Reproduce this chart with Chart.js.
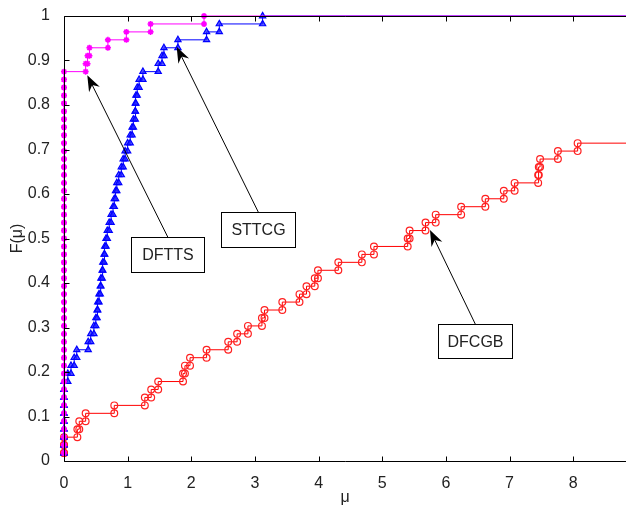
<!DOCTYPE html>
<html lang="en">
<head>
  <meta charset="UTF-8">
  <title>Performance profile F(mu)</title>
  <style>
    body { margin: 0; background: #fff; }
    #wrap { width: 626px; height: 510px; }
  </style>
</head>
<body>
  <div id="wrap"><canvas id="profile" width="626" height="510"></canvas></div>

  <script src="https://cdn.jsdelivr.net/npm/chart.js@4.4.0/dist/chart.umd.min.js"></script>
  <script>
    // number of test problems, each solved problem raises F by 1/N
    const N = 56;
    const X_MAX = 8.83;
    const xTicks = [0, 1, 2, 3, 4, 5, 6, 7, 8];
    const yTicks = [0, 0.1, 0.2, 0.3, 0.4, 0.5, 0.6, 0.7, 0.8, 0.9, 1];

    // sorted mu values per solver
    const muDFTTS = [
      0, 0, 0, 0, 0, 0, 0, 0, 0, 0,
      0, 0, 0, 0, 0, 0, 0, 0, 0, 0,
      0, 0, 0, 0, 0, 0, 0, 0, 0, 0,
      0, 0, 0, 0, 0, 0, 0, 0, 0, 0,
      0, 0, 0, 0, 0, 0, 0, 0, 0,
      0.34, 0.37, 0.40, 0.69, 0.98, 1.36, 2.20
    ];
    const muSTTCG = [
      0, 0, 0, 0, 0, 0, 0, 0, 0, 0,
      0.06, 0.11, 0.16, 0.20, 0.38, 0.42, 0.47, 0.50, 0.52, 0.53,
      0.55, 0.57, 0.58, 0.60, 0.61, 0.63, 0.64, 0.66, 0.68, 0.71,
      0.74, 0.77, 0.79, 0.81, 0.83, 0.86, 0.90, 0.93, 0.96, 1.00,
      1.04, 1.07, 1.09, 1.12, 1.12, 1.13, 1.15, 1.18, 1.24, 1.48,
      1.54, 1.57, 1.79, 2.24, 2.44, 3.12
    ];
    const muDFCGB = [
      0, 0, 0,
      0.21, 0.24, 0.34, 0.79, 1.27, 1.37, 1.48, 1.87, 1.90, 1.98,
      2.24, 2.58, 2.72, 2.89, 3.11, 3.15, 3.43, 3.70, 3.81, 3.94,
      3.99, 4.31, 4.68, 4.87, 5.40, 5.43, 5.68, 5.84, 6.24, 6.62,
      6.91, 7.08, 7.45, 7.46, 7.48, 7.76, 8.07
    ];

    // stairs: horizontal then vertical, a marker on every corner
    function profilePoints(mu) {
      const pts = [];
      mu.forEach((m, i) => {
        if (i > 0) pts.push({ x: m, y: i / N });
        pts.push({ x: m, y: (i + 1) / N });
      });
      pts.push({ x: X_MAX, y: mu.length / N });
      return pts;
    }

    const notLast = (r) => (c) => (c.dataIndex === c.dataset.data.length - 1 ? 0 : r);

    const callouts = [
      { text: 'DFTTS', box: [1.05, 2.20, 0.425, 0.503], tip: [0.366, 0.867] },
      { text: 'STTCG', box: [2.46, 3.63, 0.482, 0.560], tip: [1.77, 0.931] },
      { text: 'DFCGB', box: [5.88, 7.04, 0.231, 0.307], tip: [5.75, 0.519] }
    ];

    const FONT = '16px "Liberation Sans", Arial, sans-serif';

    const frame = {
      id: 'frame',
      afterDatasetsDraw(chart) {
        const { ctx, chartArea: a, scales } = chart;
        const L = Math.round(a.left) + 0.5, T = Math.round(a.top) + 0.5, B = Math.round(a.bottom) + 0.5;
        ctx.save();
        ctx.strokeStyle = '#000';
        ctx.lineWidth = 1;
        ctx.beginPath();
        ctx.moveTo(chart.width, T); ctx.lineTo(L, T); ctx.lineTo(L, B); ctx.lineTo(chart.width, B);
        xTicks.forEach(v => {
          const px = Math.round(scales.x.getPixelForValue(v)) + 0.5;
          ctx.moveTo(px, B); ctx.lineTo(px, B - 5);
          ctx.moveTo(px, T); ctx.lineTo(px, T + 5);
        });
        yTicks.forEach(v => {
          const py = Math.round(scales.y.getPixelForValue(v)) + 0.5;
          ctx.moveTo(L, py); ctx.lineTo(L + 5, py);
        });
        ctx.stroke();

        // text boxes with arrows
        ctx.font = FONT;
        ctx.textAlign = 'center';
        ctx.textBaseline = 'middle';
        callouts.forEach(c => {
          const x0 = Math.round(scales.x.getPixelForValue(c.box[0])) + 0.5;
          const x1 = Math.round(scales.x.getPixelForValue(c.box[1])) + 0.5;
          const y0 = Math.round(scales.y.getPixelForValue(c.box[3])) + 0.5;
          const y1 = Math.round(scales.y.getPixelForValue(c.box[2])) + 0.5;
          const sx = (x0 + x1) / 2, sy = y0;
          const tx = scales.x.getPixelForValue(c.tip[0]);
          const ty = scales.y.getPixelForValue(c.tip[1]);
          const dx = tx - sx, dy = ty - sy, len = Math.hypot(dx, dy);
          const ux = dx / len, uy = dy / len, nx = -uy, ny = ux;
          const hl = 16, hw = 6;
          ctx.strokeStyle = '#000';
          ctx.beginPath();
          ctx.moveTo(sx, sy);
          ctx.lineTo(tx - ux * 10, ty - uy * 10);
          ctx.stroke();
          ctx.fillStyle = '#000';
          ctx.beginPath();
          ctx.moveTo(tx, ty);
          ctx.lineTo(tx - ux * hl + nx * hw, ty - uy * hl + ny * hw);
          ctx.lineTo(tx - ux * (hl - 5), ty - uy * (hl - 5));
          ctx.lineTo(tx - ux * hl - nx * hw, ty - uy * hl - ny * hw);
          ctx.closePath();
          ctx.fill();
          ctx.fillStyle = '#fff';
          ctx.fillRect(x0, y0, x1 - x0, y1 - y0);
          ctx.strokeRect(x0, y0, x1 - x0, y1 - y0);
          ctx.fillStyle = '#222';
          ctx.fillText(c.text, sx, (y0 + y1) / 2 + 1);
        });
        ctx.restore();
      }
    };

    Chart.defaults.font.family = '"Liberation Sans", Arial, sans-serif';
    Chart.defaults.font.size = 16;
    Chart.defaults.color = '#222';

    new Chart(document.getElementById('profile'), {
      type: 'scatter',
      data: {
        datasets: [
          {
            label: 'DFTTS',
            data: profilePoints(muDFTTS),
            showLine: true,
            borderColor: '#ff00ff',
            borderWidth: 1,
            pointStyle: 'star',
            pointRadius: notLast(3),
            pointBorderColor: '#ff00ff',
            pointBorderWidth: 1.6,
            clip: false
          },
          {
            label: 'STTCG',
            data: profilePoints(muSTTCG),
            showLine: true,
            borderColor: '#0000ff',
            borderWidth: 1,
            pointStyle: 'triangle',
            pointRadius: notLast(3.6),
            pointBackgroundColor: 'rgba(40,40,255,0.75)',
            pointBorderColor: '#0000ff',
            pointBorderWidth: 1.2,
            clip: false
          },
          {
            label: 'DFCGB',
            data: profilePoints(muDFCGB),
            showLine: true,
            borderColor: '#ff0000',
            borderWidth: 1,
            pointStyle: 'circle',
            pointRadius: notLast(3.4),
            pointBackgroundColor: 'rgba(255,255,255,0)',
            pointBorderColor: '#ff2020',
            pointBorderWidth: 1.2,
            clip: false
          }
        ]
      },
      plugins: [frame],
      options: {
        responsive: false,
        animation: false,
        events: [],
        layout: { autoPadding: false, padding: { top: 16, right: 0, left: 0, bottom: 0 } },
        plugins: { legend: { display: false }, tooltip: { enabled: false } },
        scales: {
          x: {
            type: 'linear',
            min: 0,
            max: X_MAX,
            grid: { display: false },
            border: { display: false },
            afterBuildTicks: s => { s.ticks = xTicks.map(v => ({ value: v })); },
            afterFit: s => { s.height = 49; },
            ticks: { padding: 5, maxRotation: 0 },
            title: { display: true, text: 'μ', padding: { top: 0, bottom: 3 } }
          },
          y: {
            type: 'linear',
            min: 0,
            max: 1,
            grid: { display: false },
            border: { display: false },
            afterBuildTicks: s => { s.ticks = yTicks.map(v => ({ value: v })); },
            afterFit: s => { s.width = 64; },
            ticks: { padding: 6, callback: v => String(Math.round(v * 10) / 10) },
            title: { display: true, text: 'F(μ)', padding: { top: 8, bottom: 0 } }
          }
        }
      }
    });
  </script>
</body>
</html>
